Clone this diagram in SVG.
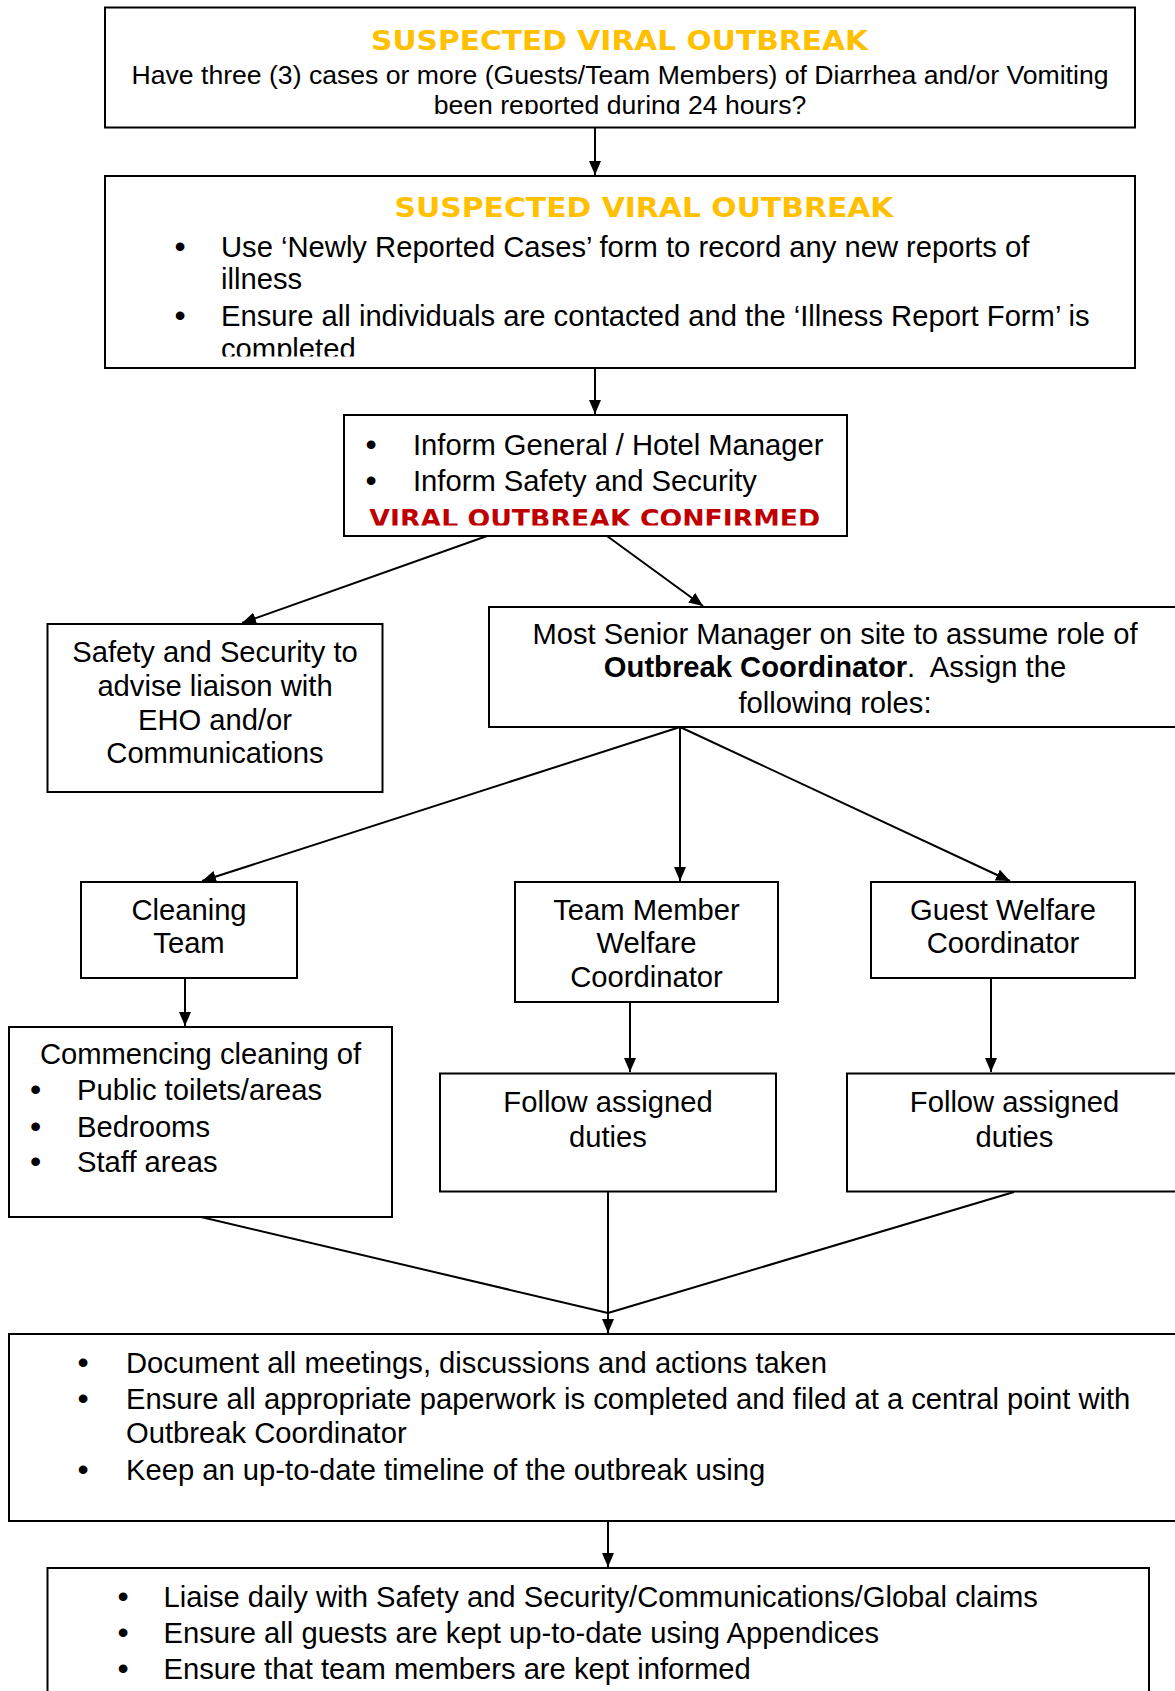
<svg xmlns="http://www.w3.org/2000/svg" width="1175" height="1691" viewBox="0 0 1175 1691">
<style>
.box{fill:#fff;stroke:#000;stroke-width:2}
.t{font-family:"Liberation Sans",Arial,sans-serif;font-size:29.2px;fill:#000}
.s{font-size:26.6px}
.c{text-anchor:middle}
.b{font-size:32px}
.ttl{font-family:"DejaVu Sans","Liberation Sans",sans-serif;font-weight:bold;fill:#FFC000;font-size:26.5px}
.red{font-family:"DejaVu Sans","Liberation Sans",sans-serif;font-weight:bold;fill:#C00000;font-size:24px}
.ln{stroke:#000;stroke-width:2;fill:none}
.ar{marker-end:url(#ah)}
</style>
<defs>
<marker id="ah" viewBox="0 0 14 12" markerWidth="14" markerHeight="12" refX="14" refY="6" orient="auto" markerUnits="userSpaceOnUse">
<path d="M0,0 L14,6 L0,12 Z" fill="#000"/>
</marker>
<clipPath id="c1"><rect x="105" y="8" width="1030" height="106"/></clipPath>
<clipPath id="c2"><rect x="105" y="176" width="1030" height="180.5"/></clipPath>
<clipPath id="c3"><rect x="344" y="415" width="503" height="110.5"/></clipPath>
<clipPath id="c5"><rect x="489" y="607" width="700" height="108"/></clipPath>
</defs>
<rect width="1175" height="1691" fill="#fff"/>
<g id="connectors">
<line class="ln ar" x1="595" y1="128" x2="595" y2="175"/>
<line class="ln ar" x1="595" y1="369" x2="595" y2="414"/>
<line class="ln ar" x1="487" y1="536" x2="242" y2="623"/>
<line class="ln ar" x1="607" y1="536" x2="703" y2="606"/>
<line class="ln ar" x1="680" y1="727" x2="202" y2="881"/>
<line class="ln ar" x1="680" y1="727" x2="680" y2="881"/>
<line class="ln ar" x1="680" y1="727" x2="1010" y2="881"/>
<line class="ln ar" x1="185" y1="978" x2="185" y2="1026"/>
<line class="ln ar" x1="630" y1="1002" x2="630" y2="1072"/>
<line class="ln ar" x1="991" y1="978" x2="991" y2="1072"/>
<line class="ln" x1="201" y1="1217" x2="608" y2="1313"/>
<line class="ln" x1="1014" y1="1192" x2="608" y2="1313"/>
<line class="ln ar" x1="608" y1="1192" x2="608" y2="1333"/>
<line class="ln ar" x1="608" y1="1521" x2="608" y2="1567"/>
</g>
<g id="n1">
<rect class="box" x="105" y="7.5" width="1030" height="120"/>
<g clip-path="url(#c1)">
<text class="ttl" x="371" y="49.5" textLength="497" lengthAdjust="spacingAndGlyphs">SUSPECTED VIRAL OUTBREAK</text>
<text class="t s c" x="620" y="84">Have three (3) cases or more (Guests/Team Members) of Diarrhea and/or Vomiting</text>
<text class="t s c" x="620" y="113.5">been reported during 24 hours?</text>
</g>
</g>
<g id="n2">
<rect class="box" x="105" y="176" width="1030" height="192"/>
<g clip-path="url(#c2)">
<text class="ttl" x="394.5" y="217" textLength="499" lengthAdjust="spacingAndGlyphs">SUSPECTED VIRAL OUTBREAK</text>
<text class="t" y="256.5"><tspan class="b" x="174.4">•</tspan><tspan x="221">Use ‘Newly Reported Cases’ form to record any new reports of</tspan></text>
<text class="t" x="221" y="289">illness</text>
<text class="t" y="325.5"><tspan class="b" x="174.4">•</tspan><tspan x="221">Ensure all individuals are contacted and the ‘Illness Report Form’ is</tspan></text>
<text class="t" x="221" y="358.5">completed</text>
</g>
</g>
<g id="n3">
<rect class="box" x="344" y="415" width="503" height="121"/>
<g clip-path="url(#c3)">
<text class="t" y="455"><tspan class="b" x="365.4">•</tspan><tspan x="413">Inform General / Hotel Manager</tspan></text>
<text class="t" y="491"><tspan class="b" x="365.4">•</tspan><tspan x="413">Inform Safety and Security</tspan></text>
<text class="red" x="369.3" y="526.5" textLength="451" lengthAdjust="spacingAndGlyphs">VIRAL OUTBREAK CONFIRMED</text>
</g>
</g>
<g id="n4">
<rect class="box" x="47.5" y="624" width="335" height="168"/>
<text class="t c" x="215" y="662">Safety and Security to</text>
<text class="t c" x="215" y="696">advise liaison with</text>
<text class="t c" x="215" y="730">EHO and/or</text>
<text class="t c" x="215" y="763">Communications</text>
</g>
<g id="n5">
<rect class="box" x="489" y="607" width="700" height="120"/>
<g clip-path="url(#c5)">
<text class="t c" x="835" y="644">Most Senior Manager on site to assume role of</text>
<text class="t c" x="835" y="677"><tspan font-weight="bold">Outbreak Coordinator</tspan>.&#160; Assign the</text>
<text class="t c" x="835" y="713">following roles:</text>
</g>
</g>
<g id="n6">
<rect class="box" x="81" y="882" width="216" height="96"/>
<text class="t c" x="189" y="920">Cleaning</text>
<text class="t c" x="189" y="953">Team</text>
</g>
<g id="n7">
<rect class="box" x="515" y="882" width="263" height="120"/>
<text class="t c" x="646.5" y="920">Team Member</text>
<text class="t c" x="646.5" y="953">Welfare</text>
<text class="t c" x="646.5" y="987">Coordinator</text>
</g>
<g id="n8">
<rect class="box" x="871" y="882" width="264" height="96"/>
<text class="t c" x="1003" y="920">Guest Welfare</text>
<text class="t c" x="1003" y="953">Coordinator</text>
</g>
<g id="n9">
<rect class="box" x="9" y="1027" width="383" height="190"/>
<text class="t c" x="200.5" y="1064">Commencing cleaning of</text>
<text class="t" y="1100"><tspan class="b" x="30">•</tspan><tspan x="77">Public toilets/areas</tspan></text>
<text class="t" y="1136.5"><tspan class="b" x="30">•</tspan><tspan x="77">Bedrooms</tspan></text>
<text class="t" y="1171.5"><tspan class="b" x="30">•</tspan><tspan x="77">Staff areas</tspan></text>
</g>
<g id="n10">
<rect class="box" x="440" y="1073.5" width="336" height="118"/>
<text class="t c" x="608" y="1112">Follow assigned</text>
<text class="t c" x="608" y="1147">duties</text>
</g>
<g id="n11">
<rect class="box" x="847" y="1073.5" width="340" height="118"/>
<text class="t c" x="1014.5" y="1112">Follow assigned</text>
<text class="t c" x="1014.5" y="1147">duties</text>
</g>
<g id="n12">
<rect class="box" x="9" y="1334" width="1180" height="187"/>
<text class="t" y="1373"><tspan class="b" x="77.4">•</tspan><tspan x="126">Document all meetings, discussions and actions taken</tspan></text>
<text class="t" y="1409"><tspan class="b" x="77.4">•</tspan><tspan x="126">Ensure all appropriate paperwork is completed and filed at a central point with</tspan></text>
<text class="t" x="126" y="1443">Outbreak Coordinator</text>
<text class="t" y="1480"><tspan class="b" x="77.4">•</tspan><tspan x="126">Keep an up-to-date timeline of the outbreak using</tspan></text>
</g>
<g id="n13">
<rect class="box" x="47.5" y="1568" width="1101.5" height="140"/>
<text class="t" y="1606.5"><tspan class="b" x="117.4">•</tspan><tspan x="163.5">Liaise daily with Safety and Security/Communications/Global claims</tspan></text>
<text class="t" y="1643"><tspan class="b" x="117.4">•</tspan><tspan x="163.5">Ensure all guests are kept up-to-date using Appendices</tspan></text>
<text class="t" y="1679"><tspan class="b" x="117.4">•</tspan><tspan x="163.5">Ensure that team members are kept informed</tspan></text>
</g>
</svg>
